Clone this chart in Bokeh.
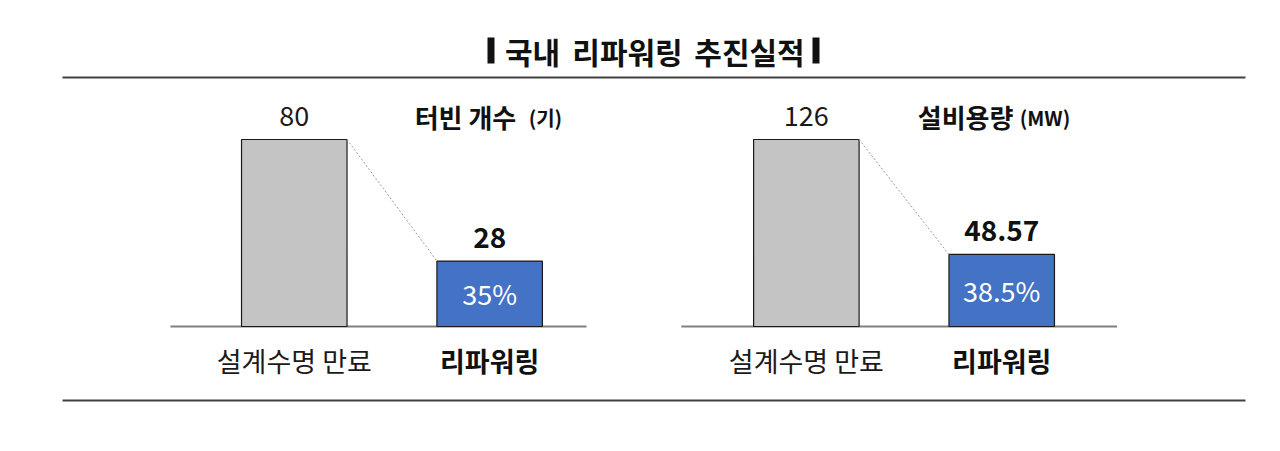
from bokeh.plotting import figure
from bokeh.models import ColumnDataSource, FactorRange, Range1d, Label, BoxAnnotation
from bokeh.transform import dodge
from bokeh.core.properties import value
from bokeh.embed import file_html
from bokeh.resources import INLINE

# data
title_words = ["국내", "리파워링", "추진실적"]
panels = ["터빈 개수", "설비용량"]
units = ["(기)", "(MW)"]
categories = ["설계수명 만료", "리파워링"]
before_vals = [80, 126]
after_vals = [28, 48.57]
value_labels_before = ["80", "126"]
value_labels_after = ["28", "48.57"]
ratio_labels = ["35%", "38.5%"]

FONT = "Noto Sans CJK KR"
W, H = 1264, 435
L = 31  # frame left border

factors = [(pn, c) for pn in panels for c in categories]

p = figure(width=W, height=H, output_backend="svg", toolbar_location=None,
           x_range=FactorRange(*factors, group_padding=0.621,
                               range_padding=0.845, range_padding_units="absolute"),
           y_range=Range1d(0, 1),
           min_border_left=L, min_border_right=0, min_border_top=0, min_border_bottom=0)
p.axis.visible = False
p.grid.visible = False
p.outline_line_color = None
p.background_fill_color = "white"


def sx(px):
    return px - L


def sy(py):
    return H - py


# each panel has its own value scale (bars reach same height for the max)
bar_px = 187.0
base_px = 109.0
for i, pn in enumerate(panels):
    vmax = before_vals[i]
    p.extra_y_ranges[pn] = Range1d(-vmax * base_px / bar_px, vmax * (H - base_px) / bar_px)

# top / bottom rules
for yy in (77, 400):
    p.add_layout(BoxAnnotation(left=sx(62), right=sx(1245), bottom=sy(yy) - 1, top=sy(yy) + 1,
                               left_units="screen", right_units="screen",
                               top_units="screen", bottom_units="screen",
                               fill_color="#404040", fill_alpha=1, line_color=None))

# title
for word, cx in zip(title_words, [532, 627, 749]):
    p.add_layout(Label(x=sx(cx), y=sy(50), x_units="screen", y_units="screen", text=word,
                       text_font=FONT, text_font_size="30px", text_font_style="bold",
                       text_align="center", text_baseline="middle", text_color="#111111"))
for lx in (487, 812):
    p.add_layout(BoxAnnotation(left=sx(lx), right=sx(lx + 7), bottom=sy(63), top=sy(37),
                               left_units="screen", right_units="screen",
                               top_units="screen", bottom_units="screen",
                               fill_color="#111111", fill_alpha=1, line_color=None))

base_ext = [(-0.634, 0.496), (-0.64, 0.59)]
head_off = [-75, -84]
unit_off = [39, 18]

for i, pn in enumerate(panels):
    src = ColumnDataSource(dict(
        x=[(pn, categories[0]), (pn, categories[1])],
        top=[before_vals[i], after_vals[i]],
        fill=["#c4c4c4", "#4472c4"],
    ))
    # baseline
    base = ColumnDataSource(dict(x0=[(pn, categories[0])], x1=[(pn, categories[1])], y=[0]))
    p.segment(x0=dodge("x0", base_ext[i][0], range=p.x_range),
              x1=dodge("x1", base_ext[i][1], range=p.x_range),
              y0="y", y1="y", source=base, y_range_name=pn, line_color="#808080", line_width=2)
    p.vbar(x="x", top="top", bottom=0, width=0.54, source=src, y_range_name=pn,
           fill_color="fill", line_color="#1a1a1a", line_width=1.2)

    # dotted connector
    con = ColumnDataSource(dict(x0=[(pn, categories[0])], x1=[(pn, categories[1])],
                                y0=[before_vals[i]], y1=[after_vals[i]]))
    p.segment(x0=dodge("x0", 0.27, range=p.x_range), x1=dodge("x1", -0.27, range=p.x_range),
              y0="y0", y1="y1", source=con, y_range_name=pn,
              line_color="#9a9a9a", line_width=1, line_dash="2 2")

    # values above bars
    p.text(x=[(pn, categories[0])], y=[before_vals[i]], text=[value_labels_before[i]],
           y_range_name=pn, y_offset=-24, text_font=value(FONT), text_font_size="27px",
           text_align="center", text_baseline="alphabetic", text_color="#1a1a1a")
    p.text(x=[(pn, categories[1])], y=[after_vals[i]], text=[value_labels_after[i]],
           y_range_name=pn, y_offset=-24, text_font=value(FONT), text_font_size="28px",
           text_font_style="bold", text_align="center", text_baseline="alphabetic",
           text_color="#111111")
    # ratio inside blue bar
    p.text(x=[(pn, categories[1])], y=[after_vals[i] / 2], text=[ratio_labels[i]],
           y_range_name=pn, y_offset=0, text_font=value(FONT), text_font_size="27px",
           text_align="center", text_baseline="alphabetic", text_color="white")

    # category labels
    p.text(x=[(pn, categories[0])], y=[0], text=[categories[0]], y_range_name=pn, y_offset=34,
           text_font=value(FONT), text_font_size="27px", text_align="center",
           text_baseline="middle", text_color="#1a1a1a")
    p.text(x=[(pn, categories[1])], y=[0], text=[categories[1]], y_range_name=pn, y_offset=34,
           text_font=value(FONT), text_font_size="27px", text_font_style="bold",
           text_align="center", text_baseline="middle", text_color="#111111")

    # panel heading with unit
    p.text(x=[(pn, categories[1])], y=[before_vals[i]], text=[pn], y_range_name=pn,
           x_offset=head_off[i], y_offset=-23, text_font=value(FONT), text_font_size="26px",
           text_font_style="bold", text_align="left", text_baseline="middle",
           text_color="#111111")
    p.text(x=[(pn, categories[1])], y=[before_vals[i]], text=[units[i]], y_range_name=pn,
           x_offset=unit_off[i], y_offset=-22, text_font=value(FONT), text_font_size="20px",
           text_font_style="bold", text_align="left", text_baseline="middle",
           text_color="#111111")

open("out.html", "w").write(file_html(p, INLINE))
